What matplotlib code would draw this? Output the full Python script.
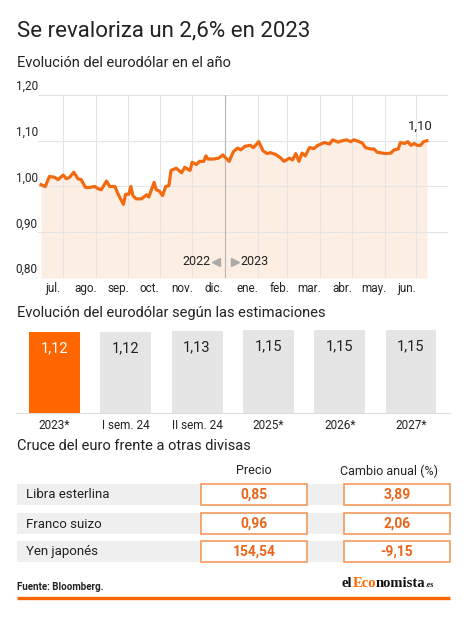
import matplotlib
matplotlib.use('Agg')
import matplotlib.pyplot as plt
import matplotlib.dates as mdates
from matplotlib.patches import Rectangle
import pandas as pd

plt.rcParams['font.family'] = ['Roboto', 'DejaVu Sans']

# -------------------------------
# Data
# -------------------------------
fechas = ['2022-07-11', '2022-07-15', '2022-07-19', '2022-07-24', '2022-07-27',
          '2022-08-01', '2022-08-04', '2022-08-07', '2022-08-11', '2022-08-15',
          '2022-08-18', '2022-08-22', '2022-08-26', '2022-08-31', '2022-09-03',
          '2022-09-06', '2022-09-11', '2022-09-14', '2022-09-19', '2022-09-22',
          '2022-09-27', '2022-09-29', '2022-10-02', '2022-10-04', '2022-10-06',
          '2022-10-09', '2022-10-14', '2022-10-19', '2022-10-21', '2022-10-26',
          '2022-10-28', '2022-10-31', '2022-11-03', '2022-11-06', '2022-11-09',
          '2022-11-11', '2022-11-16', '2022-11-21', '2022-11-24', '2022-11-29',
          '2022-12-01', '2022-12-05', '2022-12-08', '2022-12-12', '2022-12-14',
          '2022-12-16', '2022-12-21', '2022-12-26', '2022-12-30', '2023-01-05',
          '2023-01-09', '2023-01-13', '2023-01-16', '2023-01-20', '2023-01-25',
          '2023-01-28', '2023-02-02', '2023-02-06', '2023-02-10', '2023-02-13',
          '2023-02-18', '2023-02-23', '2023-02-26', '2023-03-03', '2023-03-06',
          '2023-03-09', '2023-03-12', '2023-03-15', '2023-03-18', '2023-03-22',
          '2023-03-26', '2023-03-30', '2023-04-05', '2023-04-10', '2023-04-13',
          '2023-04-18', '2023-04-22', '2023-04-26', '2023-04-30', '2023-05-03',
          '2023-05-08', '2023-05-11', '2023-05-14', '2023-05-19', '2023-05-22',
          '2023-05-25', '2023-05-30', '2023-06-02', '2023-06-07', '2023-06-10',
          '2023-06-14', '2023-06-16', '2023-06-20', '2023-06-23', '2023-06-26',
          '2023-06-29', '2023-07-02', '2023-07-05', '2023-07-08', '2023-07-11']
cotizacion = [1.004, 1.000, 1.022, 1.020, 1.015,
              1.025, 1.017, 1.020, 1.031, 1.017,
              1.015, 0.998, 0.998, 1.000, 0.995,
              0.993, 1.012, 1.000, 1.000, 0.983,
              0.961, 0.983, 0.983, 1.000, 0.980,
              0.973, 0.973, 0.982, 0.977, 1.009,
              0.993, 0.990, 0.980, 1.000, 1.002,
              1.035, 1.040, 1.030, 1.042, 1.035,
              1.053, 1.048, 1.055, 1.055, 1.067,
              1.060, 1.060, 1.062, 1.069, 1.055,
              1.076, 1.084, 1.080, 1.088, 1.090,
              1.085, 1.098, 1.078, 1.072, 1.074,
              1.070, 1.062, 1.055, 1.062, 1.058,
              1.072, 1.055, 1.073, 1.067, 1.085,
              1.083, 1.090, 1.096, 1.093, 1.102,
              1.097, 1.100, 1.102, 1.098, 1.102,
              1.098, 1.095, 1.085, 1.082, 1.082,
              1.075, 1.073, 1.072, 1.073, 1.080,
              1.082, 1.096, 1.094, 1.098, 1.090,
              1.094, 1.090, 1.090, 1.098, 1.100]

meses = ['jul.', 'ago.', 'sep.', 'oct.', 'nov.', 'dic.',
         'ene.', 'feb.', 'mar.', 'abr.', 'may.', 'jun.']
y_ticks = [0.80, 0.90, 1.00, 1.10, 1.20]

periodos = ['2023*', 'I sem. 24', 'II sem. 24', '2025*', '2026*', '2027*']
estimaciones = [1.12, 1.12, 1.13, 1.15, 1.15, 1.15]

divisas = ['Libra esterlina', 'Franco suizo', 'Yen japonés']
precio = ['0,85', '0,96', '154,54']
cambio_anual = ['3,89', '2,06', '-9,15']

# -------------------------------
# Styles
# -------------------------------
W, H = 474, 624
ORANGE = '#f26a10'
BAR_ORANGE = '#ff6600'
FILL = '#fdeee3'
GRID = '#e4e4e4'
TEXT = '#222222'


def fig_rect(x0, y0, x1, y1):
    # pixel box (top-left origin) -> figure fraction
    return [x0 / W, 1 - y1 / H, (x1 - x0) / W, (y1 - y0) / H]


fig = plt.figure(figsize=(W / 100, H / 100), dpi=100)
fig.patch.set_facecolor('white')

# overlay in pixel coordinates for texts / table
bg = fig.add_axes([0, 0, 1, 1])
bg.set_xlim(0, W)
bg.set_ylim(H, 0)
bg.axis('off')

bg.text(17, 31, 'Se revaloriza un 2,6% en 2023', fontsize=16, color=TEXT, va='center')
bg.text(17, 63, 'Evolución del eurodólar en el año', fontsize=10.5, color=TEXT, va='center')

# -------------------------------
# Line chart
# -------------------------------
ax = fig.add_axes(fig_rect(38, 95, 448, 278))
dates = pd.to_datetime(fechas)
x0 = mdates.date2num(dates[0])
px_day = 1.057
ax.set_xlim(x0 - 3 / px_day, x0 + (448 - 41) / px_day)
ax.set_ylim(0.80, 1.20)

ax.fill_between(dates, cotizacion, 0.80, color=FILL, lw=0, zorder=1)
for v in y_ticks:
    ax.axhline(v, color=GRID, lw=0.8, zorder=2)
month_starts = pd.date_range('2022-08-01', '2023-07-01', freq='MS')
for d in month_starts:
    c = '#b5b5b5' if d == pd.Timestamp('2023-01-01') else GRID
    ax.axvline(d, color=c, lw=0.8, zorder=2)
ax.plot(dates, cotizacion, color=ORANGE, lw=2.3, zorder=3, solid_joinstyle='round')

for v in y_ticks:
    ax.text(-0.054, v + 0.004, f'{v:.2f}'.replace('.', ','), transform=ax.get_yaxis_transform(),
            fontsize=8.5, color=TEXT, va='bottom', ha='left')

tick_pos = pd.date_range('2022-07-01', '2023-06-01', freq='MS') + pd.Timedelta(days=21)
ax.set_xticks(tick_pos)
ax.set_xticklabels(meses, fontsize=8.5, color=TEXT)
ax.tick_params(axis='x', length=0, pad=3)
ax.set_yticks([])
for s in ax.spines.values():
    s.set_visible(False)

ax.annotate(f'{cotizacion[-1]:.2f}'.replace('.', ','), (dates[-1], cotizacion[-1]),
            xytext=(-6, 14), textcoords='offset pixels', ha='center', va='center',
            fontsize=9.5, color=TEXT)

# year marker
ax.plot([pd.Timestamp('2022-12-24')], [0.836], marker='<', ms=6, color='#aaaaaa', zorder=4)
ax.plot([pd.Timestamp('2023-01-11')], [0.836], marker='>', ms=6, color='#aaaaaa', zorder=4)
ax.text(pd.Timestamp('2022-12-18'), 0.836, '2022', ha='right', va='center', fontsize=9, color=TEXT)
ax.text(pd.Timestamp('2023-01-16'), 0.836, '2023', ha='left', va='center', fontsize=9, color=TEXT)

# -------------------------------
# Bar chart
# -------------------------------
bg.text(17, 313, 'Evolución del eurodólar según las estimaciones', fontsize=10.5,
        color=TEXT, va='center')

axb = fig.add_axes(fig_rect(16, 326.4, 450, 413))
pos = list(range(len(periodos)))
colors = [BAR_ORANGE] + ['#e5e5e5'] * (len(periodos) - 1)
axb.bar(pos, estimaciones, width=0.715, color=colors, zorder=2)
axb.set_xlim(-0.54, 5.547)
axb.set_ylim(0, 1.2)
for i, v in enumerate(estimaciones):
    axb.annotate(f'{v:.2f}'.replace('.', ','), (i, v), xytext=(0, -16),
                 textcoords='offset pixels', ha='center', va='center', fontsize=10.5,
                 color='white' if i == 0 else TEXT)
axb.set_xticks(pos)
axb.set_xticklabels(periodos, fontsize=8.5, color=TEXT)
axb.tick_params(axis='x', length=0, pad=4)
axb.set_yticks([])
for k, s in axb.spines.items():
    s.set_visible(k == 'bottom')
axb.spines['bottom'].set_color('#dddddd')
axb.spines['bottom'].set_linewidth(0.8)

# -------------------------------
# Table
# -------------------------------
bg.text(17, 446, 'Cruce del euro frente a otras divisas', fontsize=10.5, color=TEXT, va='center')
bg.text(254, 471, 'Precio', fontsize=9, color=TEXT, ha='center', va='center')
bg.text(389, 471, 'Cambio anual (%)', fontsize=9, color=TEXT, ha='center', va='center')

row_top = [484, 513, 541]
row_h = 21
for i, name in enumerate(divisas):
    t = row_top[i]
    bg.add_patch(Rectangle((17, t), 433, row_h, facecolor='#efefef', edgecolor='none'))
    bg.add_patch(Rectangle((201, t), 106, row_h, facecolor='white', edgecolor='#f29a5c', lw=1.2))
    bg.add_patch(Rectangle((344, t), 106, row_h, facecolor='white', edgecolor='#f29a5c', lw=1.2))
    cy = t + row_h / 2 + 0.5
    bg.text(26, cy, name, fontsize=9.5, color=TEXT, va='center')
    bg.text(254, cy, precio[i], fontsize=10, fontweight='bold', color='#e8671c',
            ha='center', va='center')
    bg.text(397, cy, cambio_anual[i], fontsize=10, fontweight='bold', color='#e8671c',
            ha='center', va='center')

# -------------------------------
# Footer
# -------------------------------
bg.text(17, 587, 'Fuente: Bloomberg.', fontsize=7, fontweight='bold', color=TEXT, va='center')
bg.plot([17, 450], [598, 598], color=BAR_ORANGE, lw=2.4, solid_capstyle='butt')

renderer = fig.canvas.get_renderer()
x = 342
for part, col, size in [('el', '#111111', 10.5), ('Eco', BAR_ORANGE, 10.5),
                        ('nomista', '#111111', 10.5), ('.es', '#111111', 5.5)]:
    t = bg.text(x, 587, part, fontsize=size, fontweight='bold', family='Liberation Serif',
                color=col, va='baseline')
    bb = t.get_window_extent(renderer)
    x += bb.width

fig.savefig('out.png', dpi=100)
